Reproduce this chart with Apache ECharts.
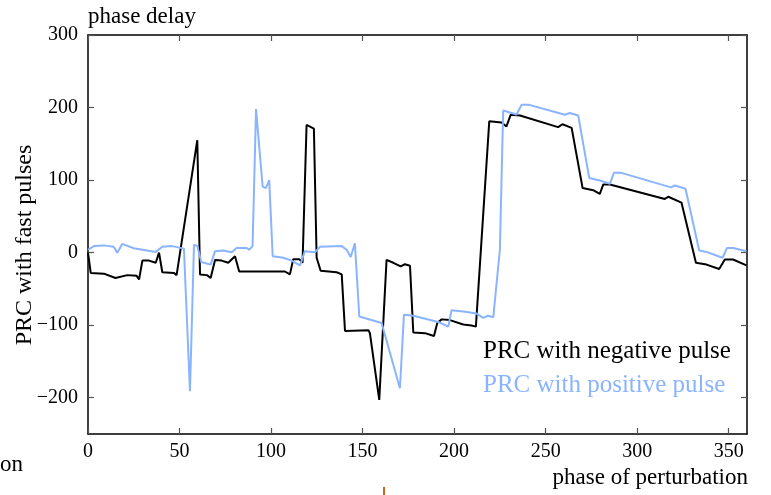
<!DOCTYPE html>
<html>
<head>
<meta charset="utf-8">
<script src="https://cdn.jsdelivr.net/npm/echarts@6/dist/echarts.min.js"></script>
<style>
  html, body { margin: 0; padding: 0; background: #fff; }
  #chart { width: 771px; height: 495px; }
</style>
</head>
<body>
<div id="chart"></div>
<script>
// Phase response curve, negative pulse: perturbation phase (deg) and resulting phase delay
const phaseNeg = [0, 1.5, 8.7, 15, 21.5, 26.6, 27.9, 29.7, 33.3, 37, 38.8, 40.6, 47, 48.4, 59.7, 61.2, 65, 67,
  69.4, 73, 76.6, 80.3, 82.6, 95, 107.6, 110.3, 112.1, 115.4, 117.2, 119.4, 123.4, 124.9, 127.1, 135.8, 138.6,
  140.4, 153.2, 154, 159.1, 163.1, 166.8, 170.8, 173.1, 175.9, 177.7, 184.1, 189, 190.8, 193.2, 197.7, 205,
  209.5, 211.9, 219.2, 225.9, 228.6, 230.9, 236, 256.8, 259.2, 264.2, 270.2, 276, 279.6, 281.5, 285.1, 315.1,
  317, 324.2, 332.1, 337.9, 344.8, 347.9, 352.4, 359.7];
const delayNeg = [0, -28, -29, -35, -31, -32, -37, -11, -11, -14, 0, -27, -28, -31, 155, -30, -31, -35,
  -10, -11, -14, -5, -26, -26, -26, -30, -9, -9, -14, 176, 171, -7, -25, -27, -30,
  -108, -107, -111, -203, -10, -14, -19, -16, -18, -110, -111, -115, -97, -92, -93, -99,
  -100.5, -102, 181, 179.5, 174, 190, 189, 173, 177, 172, 89, 86, 81, 94, 94, 74,
  77, 69, -14, -16.5, -22.5, -9.5, -9.5, -17.5];

// Phase response curve, positive pulse
const phasePos = [0, 3.3, 8.7, 14, 16, 18.7, 25, 37, 40.6, 46, 52.4, 55.7, 57.9, 59.7, 61.9, 67, 69.4,
  73.9, 78.5, 81.2, 86.7, 88, 89.9, 91.8, 95.4, 97.2, 99, 100.9, 106.7, 111.2, 115.8, 118.5, 124, 126.7,
  138.6, 141.3, 143.5, 145.8, 148.2, 160.4, 170.4, 172.6, 177.7, 191.3, 196.8, 198.6, 205, 212.3, 215.9,
  218.6, 221.4, 225, 226.8, 234.1, 236.9, 240.5, 260.5, 263.2, 267.8, 273.8, 279.6, 285.1, 287.3, 291.4,
  318.4, 320.6, 326.4, 333.9, 337.9, 346.6, 349.1, 352.4, 359.7];
const delayPos = [4, 9, 10, 8, 0, 12, 6, 1, 8, 9, 5.5, -191, 11, 9, -13, -16.5, 2,
  3, 0.5, 6.5, 6.5, 4, 9, 198, 91, 89, 100, -5, -7, -11, -17.5, 2, 0.5, 8,
  9, 4, -6, 13, -88, -97, -187, -85.5, -87, -95.5, -102, -79.5, -81, -84, -90,
  -87, -89, 4, 196, 190.5, 204, 204, 190, 192.5, 189, 103, 99.5, 95, 110, 110,
  90, 92.5, 88, 3, 1, -7, 6.5, 6.5, 2];

const xTickValues = [0, 50, 100, 150, 200, 250, 300, 350];
const yTickValues = [-200, -100, 0, 100, 200, 300];
const xRange = [0, 360];
const yRange = [-250, 300];

const serif = '"Liberation Serif", "DejaVu Serif", serif';
const blue = '#8ab4ff';

const pairs = (xs, ys) => xs.map((x, i) => [x, ys[i]]);
const minus = v => String(v).replace('-', '\u2212');

const chart = echarts.init(document.getElementById('chart'), null, { renderer: 'canvas' });

const frameAxisLine = { show: true, onZero: false, lineStyle: { color: '#000', width: 1.5 } };
const innerTicks = vals => ({ show: true, inside: true, length: 6, customValues: vals, lineStyle: { color: '#555', width: 1.2 } });

chart.setOption({
  animation: false,
  backgroundColor: '#fff',
  grid: { left: 88, right: 24, top: 35, bottom: 61 },
  xAxis: [
    {
      type: 'value', position: 'bottom', min: xRange[0], max: xRange[1],
      axisLine: frameAxisLine, axisTick: innerTicks(xTickValues), splitLine: { show: false },
      axisLabel: { fontFamily: serif, fontSize: 20, color: '#000', margin: 8, customValues: xTickValues }
    },
    {
      type: 'value', position: 'top', min: xRange[0], max: xRange[1],
      axisLine: frameAxisLine, axisTick: innerTicks(xTickValues), splitLine: { show: false },
      axisLabel: { show: false }
    }
  ],
  yAxis: [
    {
      type: 'value', position: 'left', min: yRange[0], max: yRange[1],
      axisLine: frameAxisLine, axisTick: innerTicks(yTickValues), splitLine: { show: false },
      axisLabel: {
        fontFamily: serif, fontSize: 20, color: '#000', margin: 10, customValues: yTickValues,
        formatter: v => minus(v)
      }
    },
    {
      type: 'value', position: 'right', min: yRange[0], max: yRange[1],
      axisLine: frameAxisLine, axisTick: innerTicks(yTickValues), splitLine: { show: false },
      axisLabel: { show: false }
    }
  ],
  series: [
    {
      name: 'PRC with negative pulse', type: 'line', data: pairs(phaseNeg, delayNeg),
      showSymbol: false, lineStyle: { color: '#000', width: 2 }, z: 2
    },
    {
      name: 'PRC with positive pulse', type: 'line', data: pairs(phasePos, delayPos),
      showSymbol: false, lineStyle: { color: blue, width: 2 }, z: 3
    }
  ],
  graphic: [
    { type: 'text', left: 88, top: 5, style: { text: 'phase delay', font: '23px ' + serif, fill: '#000' } },
    { type: 'text', right: 23, top: 466, style: { text: 'phase of perturbation', font: '23px ' + serif, fill: '#000' } },
    { type: 'text', left: 0, top: 453, style: { text: 'on', font: '23px ' + serif, fill: '#000' } },
    {
      type: 'text', x: 25, y: 245, rotation: Math.PI / 2,
      style: { text: 'PRC with fast pulses', font: '24px ' + serif, fill: '#000', align: 'center', verticalAlign: 'middle' }
    },
    { type: 'text', left: 483, top: 339, style: { text: 'PRC with negative pulse', font: '25px ' + serif, fill: '#000' } },
    { type: 'text', left: 483, top: 373, style: { text: 'PRC with positive pulse', font: '25px ' + serif, fill: blue } },
    { type: 'line', shape: { x1: 384, y1: 487, x2: 384, y2: 495 }, style: { stroke: '#c8641e', lineWidth: 2 } }
  ]
});
</script>
</body>
</html>
